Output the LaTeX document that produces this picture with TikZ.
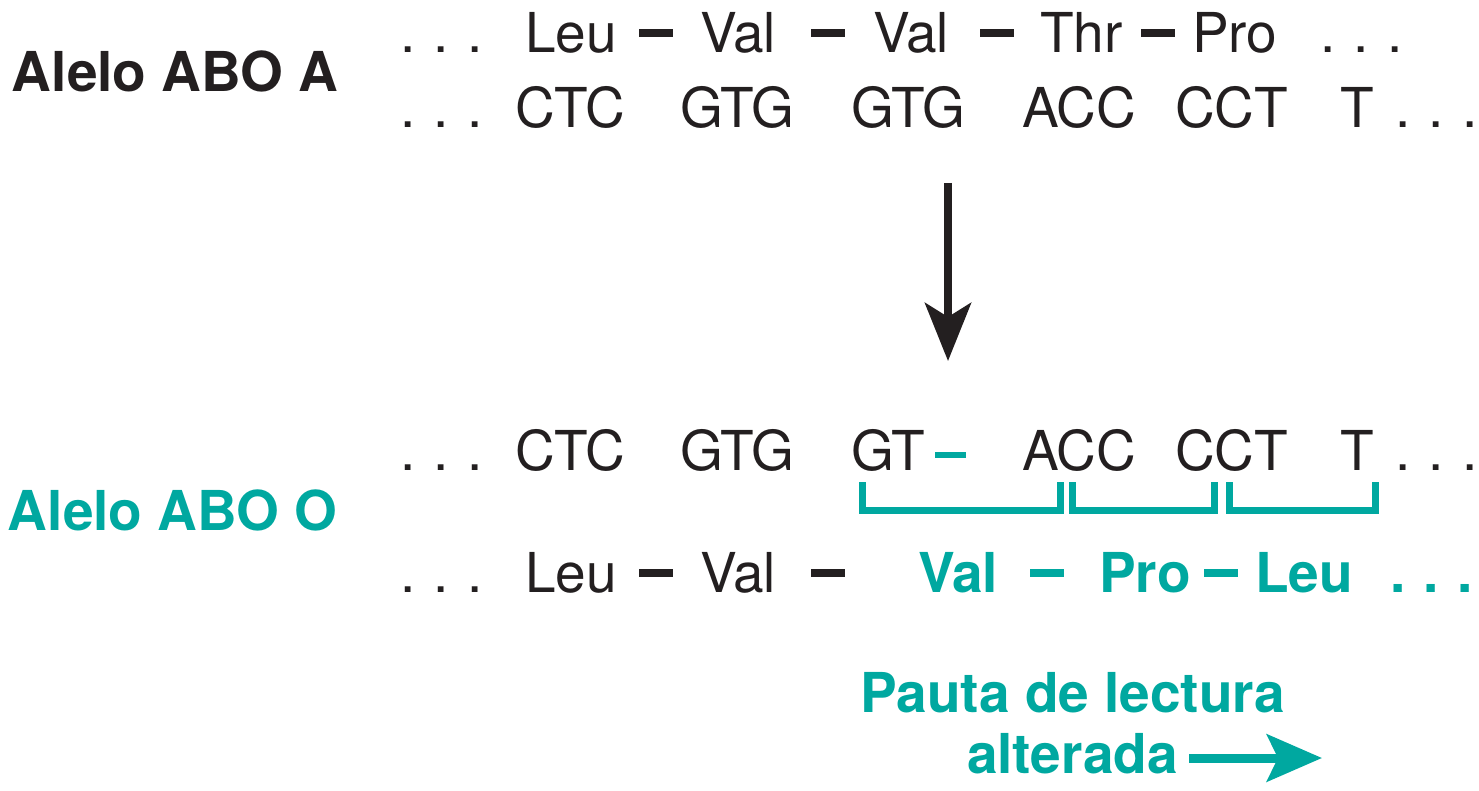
\documentclass[tikz,border=0pt]{standalone}
\usepackage{fontspec}
\setmainfont{TeX Gyre Heros}
\usetikzlibrary{arrows.meta}
\definecolor{teal1}{RGB}{0,168,160}
\definecolor{ink}{RGB}{35,31,32}
\tikzset{
  txt/.style={anchor=base west, inner sep=0pt, outer sep=0pt, text=ink, font=\fontsize{55}{60}\selectfont},
  btxt/.style={txt, font=\fontsize{55}{60}\selectfont\bfseries},
  tl/.style={btxt, text=teal1},
  dashbar/.style={fill=ink, minimum width=34pt, minimum height=8pt, inner sep=0pt},
  tdashbar/.style={dashbar, fill=teal1},
  brk/.style={draw=teal1, line width=7pt, line cap=butt, line join=miter},
}
\begin{document}
\begin{tikzpicture}[x=1pt,y=-1pt]
\useasboundingbox (0,0) rectangle (1479,791);
% labels
\node[btxt] (labA) at (12,92) {Alelo ABO A};
\node[tl] (labO) at (8,530) {Alelo ABO O};
% row 1
\node[txt] (d1) at (400,53) {.\,\,.\,\,.};
\node[txt] (a1) at (525,53) {Leu};
\node[dashbar] (h1) at (656,33) {};
\node[txt] (a2) at (700,53) {Val};
\node[dashbar] (h2) at (828,33) {};
\node[txt] (a3) at (873,53) {Val};
\node[dashbar] (h3) at (997,33) {};
\node[txt] (a4) at (1040,53) {Thr};
\node[dashbar] (h4) at (1158,33) {};
\node[txt] (a5) at (1192,53) {Pro};
\node[txt] (d2) at (1320,53) {.\,\,.\,\,.};
% row 2
\node[txt] (d3) at (400,128) {.\,\,.\,\,.};
\node[txt] (c1) at (515,128) {CTC};
\node[txt] (c2) at (680,128) {GTG};
\node[txt] (c3) at (851,128) {GTG};
\node[txt] (c4) at (1022,128) {ACC};
\node[txt] (c5) at (1175,128) {CCT};
\node[txt] (c6) at (1340,128) {T};
\node[txt] (d4) at (1395,128) {.\,\,.\,\,.};
% arrow
\coordinate (ar1) at (948,183);
\coordinate (ar2) at (948,361);
\draw[line width=8pt, draw=ink, -{Stealth[length=58pt, width=46pt, inset=14pt]}] (ar1) -- (ar2);
% row 3
\node[txt] (d5) at (400,470) {.\,\,.\,\,.};
\node[txt] (m1) at (515,470) {CTC};
\node[txt] (m2) at (680,470) {GTG};
\node[txt] (m3) at (851,470) {GT};
\node[tdashbar, minimum width=31pt, minimum height=6pt] (hm) at (950,454.5) {};
\node[txt] (m4) at (1022,470) {ACC};
\node[txt] (m5) at (1175,470) {CCT};
\node[txt] (m6) at (1340,470) {T};
\node[txt] (d6) at (1395,470) {.\,\,.\,\,.};
% brackets
\coordinate (b1a) at (862,482); \coordinate (b1b) at (1060,482);
\coordinate (b2a) at (1072,482); \coordinate (b2b) at (1214,482);
\coordinate (b3a) at (1229,482); \coordinate (b3b) at (1375,482);
\draw[brk] (b1a) -- ++(0,28) -| (b1b);
\draw[brk] (b2a) -- ++(0,28) -| (b2b);
\draw[brk] (b3a) -- ++(0,28) -| (b3b);
% row 4
\node[txt] (d7) at (400,592) {.\,\,.\,\,.};
\node[txt] (p1) at (525,592) {Leu};
\node[dashbar] (q1) at (656,572.5) {};
\node[txt] (p2) at (700,592) {Val};
\node[dashbar] (q2) at (828,572.5) {};
\node[tl] (p3) at (918,592) {Val};
\node[tdashbar] (q3) at (1047,572.5) {};
\node[tl] (p4) at (1099,592) {Pro};
\node[tdashbar] (q4) at (1221,572.5) {};
\node[tl] (p5) at (1255,592) {Leu};
\node[tl] (d8) at (1390,592) {.\,\,.\,\,.};
% reading frame
\node[tl] (pa) at (860,712) {Pauta de lectura};
\node[tl] (al) at (967,773) {alterada};
\coordinate (ts) at (1189,758);
\coordinate (ta) at (1322,758);
\draw[line width=9pt, draw=teal1, -{Stealth[length=55pt, width=47pt, inset=11pt]}] (ts) -- (ta);
\end{tikzpicture}
\end{document}
